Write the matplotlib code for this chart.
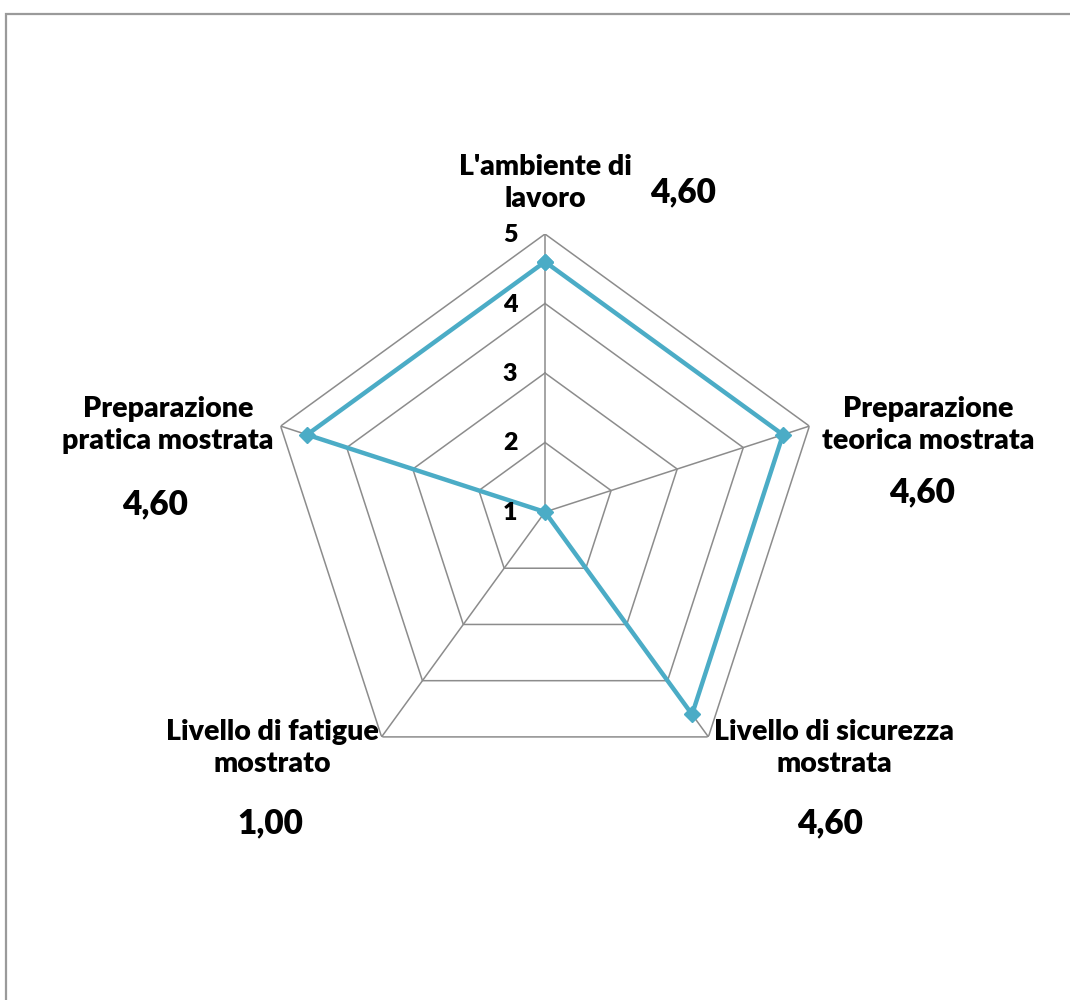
import numpy as np
import matplotlib
matplotlib.use("Agg")
import matplotlib.pyplot as plt
from matplotlib.patches import Rectangle

categories = ["L'ambiente di\nlavoro", "Preparazione\nteorica mostrata",
              "Livello di sicurezza\nmostrata", "Livello di fatigue\nmostrato",
              "Preparazione\npratica mostrata"]
values = [4.60, 4.60, 4.60, 1.00, 4.60]
value_labels = ["4,60", "4,60", "4,60", "1,00", "4,60"]
r_ticks = [1, 2, 3, 4, 5]

W, H = 1070, 1000
fig = plt.figure(figsize=(W / 100, H / 100), dpi=100)
plt.rcParams['font.family'] = ['Lato', 'DejaVu Sans']

cx, cy, R = 545, 512, 278
ax = fig.add_axes([(cx - R) / W, (H - cy - R) / H, 2 * R / W, 2 * R / H], projection='polar')
ax.set_theta_zero_location('N')
ax.set_theta_direction(-1)
ax.set_ylim(1, 5)
ax.grid(False)
ax.spines['polar'].set_visible(False)
ax.set_xticks([])
ax.set_yticks([])
ax.patch.set_alpha(0)

n = len(categories)
theta = np.linspace(0, 2 * np.pi, n, endpoint=False)
tc = np.append(theta, theta[0])
grid_col = '#8c8c8c'
for lv in r_ticks[1:]:
    ax.plot(tc, [lv] * (n + 1), color=grid_col, lw=1.1, zorder=1)
for t in theta:
    ax.plot([t, t], [r_ticks[0], r_ticks[-1]], color=grid_col, lw=1.1, zorder=1)

vc = values + values[:1]
ax.plot(tc, vc, color='#4bacc6', lw=3.2, marker='D', markersize=8.5, zorder=3, clip_on=False)

for lv in r_ticks:
    fig.text(510 / W, 1 - (cy - (lv - 1) * R / 4 + 1) / H, str(lv), ha='center', va='center',
             fontsize=18, fontweight='heavy', color='#000000')

# category labels (pixel positions of label centres)
cat_pos = [(545, 183), (928, 425), (834, 748), (272, 748), (168, 425)]
for (x, y), lab in zip(cat_pos, categories):
    fig.text(x / W, 1 - y / H, lab, ha='center', va='center', fontsize=20.5,
             fontweight='heavy', linespacing=1.32, color='#000000')

val_pos = [(683, 192), (922, 492), (830, 823), (270, 823), (155, 504)]
for (x, y), lab in zip(val_pos, value_labels):
    fig.text(x / W, 1 - y / H, lab, ha='center', va='center', fontsize=24,
             fontweight='heavy', color='#000000')

fig.add_artist(Rectangle((6 / W, -0.05), 1.2, 1 - 14 / H + 0.05, transform=fig.transFigure,
                         fill=False, edgecolor='#9a9a9a', lw=1.6, clip_on=False))

fig.savefig('out.png', dpi=100, facecolor='white')
